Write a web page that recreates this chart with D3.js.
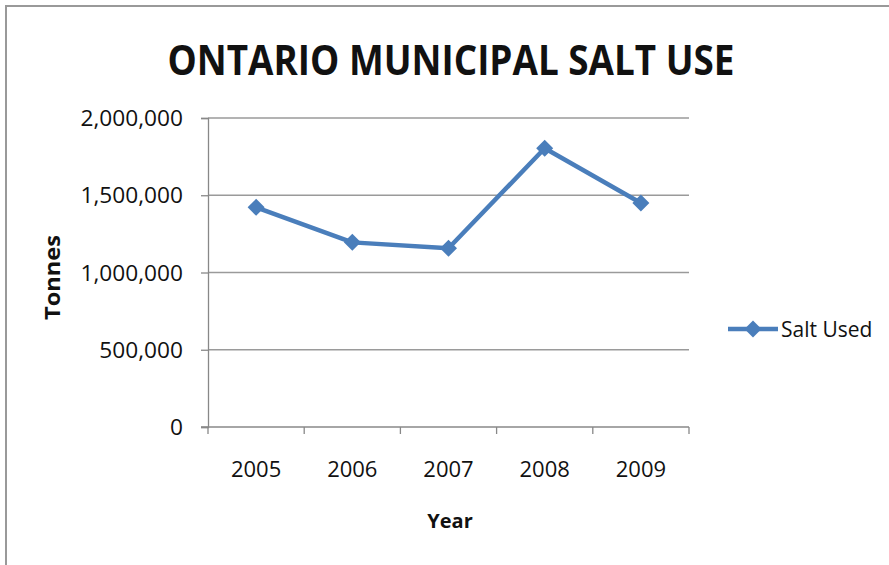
<!DOCTYPE html>
<html>
<head>
<meta charset="utf-8">
<script src="https://cdn.jsdelivr.net/npm/d3@7/dist/d3.min.js"></script>
<style>
  html, body { margin: 0; padding: 0; background: #fff; }
  svg { display: block; }
  text { font-family: "Open Sans", "Noto Sans", sans-serif; fill: #111; }
</style>
</head>
<body>
<svg id="chart" width="889" height="565"></svg>
<script>
// Annual municipal road-salt use in Ontario (tonnes)
const years = ["2005", "2006", "2007", "2008", "2009"];
const saltUsed = [1422000, 1195000, 1157000, 1804000, 1450000];
const yTicks = [0, 500000, 1000000, 1500000, 2000000];
const seriesName = "Salt Used";
const chartTitle = "ONTARIO MUNICIPAL SALT USE";
const xTitle = "Year";
const yTitle = "Tonnes";

const svg = d3.select("#chart");
const W = 889, H = 565;
const plot = { left: 208, right: 689, top: 118, bottom: 427 };
const blue = "#4a7ebb";
const grid = "#9a9a9a";

// chart frame
svg.append("rect")
  .attr("x", 6).attr("y", 6)
  .attr("width", W + 20).attr("height", H + 20)
  .attr("fill", "#fff")
  .attr("stroke", "#999").attr("stroke-width", 2);

const x = d3.scaleBand().domain(years).range([plot.left, plot.right]).padding(0);
const y = d3.scaleLinear().domain([0, 2000000]).range([plot.bottom, plot.top]);

// horizontal gridlines
svg.append("g")
  .selectAll("line")
  .data(yTicks.filter(d => d > 0))
  .join("line")
  .attr("x1", plot.left).attr("x2", plot.right)
  .attr("y1", d => y(d)).attr("y2", d => y(d))
  .attr("stroke", grid).attr("stroke-width", 1.3);

// value axis
const yAxis = svg.append("g")
  .attr("transform", `translate(${plot.left},0)`)
  .call(d3.axisLeft(y).tickValues(yTicks).tickFormat(d3.format(",")).tickSize(7).tickPadding(18));
yAxis.select(".domain").attr("stroke", "#888").attr("stroke-width", 1.3);
yAxis.selectAll(".tick line").attr("stroke", "#888").attr("stroke-width", 1.3);
yAxis.selectAll(".tick text")
  .attr("font-size", 21)
  .attr("font-family", "'Open Sans', sans-serif")
  .attr("fill", "#1a1a1a")
  .attr("dy", "0.36em")
  .attr("textLength", function () { return this.getComputedTextLength() * 1.08; })
  .attr("lengthAdjust", "spacingAndGlyphs");

// category axis
svg.append("line")
  .attr("x1", plot.left - 7).attr("x2", plot.right)
  .attr("y1", y(0)).attr("y2", y(0))
  .attr("stroke", "#888").attr("stroke-width", 1.3);
const boundaries = years.map(d => x(d)).concat([x(years[years.length - 1]) + x.bandwidth()]);
svg.append("g")
  .selectAll("line")
  .data(boundaries)
  .join("line")
  .attr("x1", d => d).attr("x2", d => d)
  .attr("y1", y(0)).attr("y2", y(0) + 7)
  .attr("stroke", "#888").attr("stroke-width", 1.3);
svg.append("g")
  .selectAll("text")
  .data(years)
  .join("text")
  .attr("x", d => x(d) + x.bandwidth() / 2)
  .attr("y", 477)
  .attr("text-anchor", "middle")
  .attr("font-size", 22)
  .attr("fill", "#1a1a1a")
  .text(d => d);

// series line
const cx = (d, i) => x(years[i]) + x.bandwidth() / 2;
svg.append("path")
  .datum(saltUsed)
  .attr("d", d3.line().x((d, i) => cx(d, i)).y(d => y(d)))
  .attr("fill", "none")
  .attr("stroke", blue)
  .attr("stroke-width", 4.5)
  .attr("stroke-linejoin", "round");

const diamond = r => `M0,${-r}L${r},0L0,${r}L${-r},0Z`;
svg.append("g")
  .selectAll("path")
  .data(saltUsed)
  .join("path")
  .attr("transform", (d, i) => `translate(${cx(d, i)},${y(d)})`)
  .attr("d", diamond(8.5))
  .attr("fill", blue);

// titles
svg.append("text")
  .attr("x", 451).attr("y", 75)
  .attr("text-anchor", "middle")
  .attr("font-size", 42)
  .attr("font-weight", "bold")
  .attr("textLength", 567)
  .attr("lengthAdjust", "spacingAndGlyphs")
  .text(chartTitle);

svg.append("text")
  .attr("x", 450).attr("y", 528)
  .attr("text-anchor", "middle")
  .attr("font-size", 20)
  .attr("font-weight", "bold")
  .text(xTitle);

svg.append("text")
  .attr("transform", `translate(60,${(plot.top + plot.bottom) / 2 + 5}) rotate(-90)`)
  .attr("text-anchor", "middle")
  .attr("font-size", 21)
  .attr("font-weight", "bold")
  .attr("textLength", 85)
  .attr("lengthAdjust", "spacingAndGlyphs")
  .text(yTitle);

// legend
const lg = svg.append("g").attr("transform", "translate(728,329)");
lg.append("line").attr("x1", 0).attr("x2", 50).attr("y1", 0).attr("y2", 0)
  .attr("stroke", blue).attr("stroke-width", 4.5);
lg.append("path").attr("transform", "translate(25,0)").attr("d", diamond(8.5)).attr("fill", blue);
lg.append("text").attr("x", 53).attr("y", 8)
  .attr("font-size", 21)
  .text(seriesName);
</script>
</body>
</html>
